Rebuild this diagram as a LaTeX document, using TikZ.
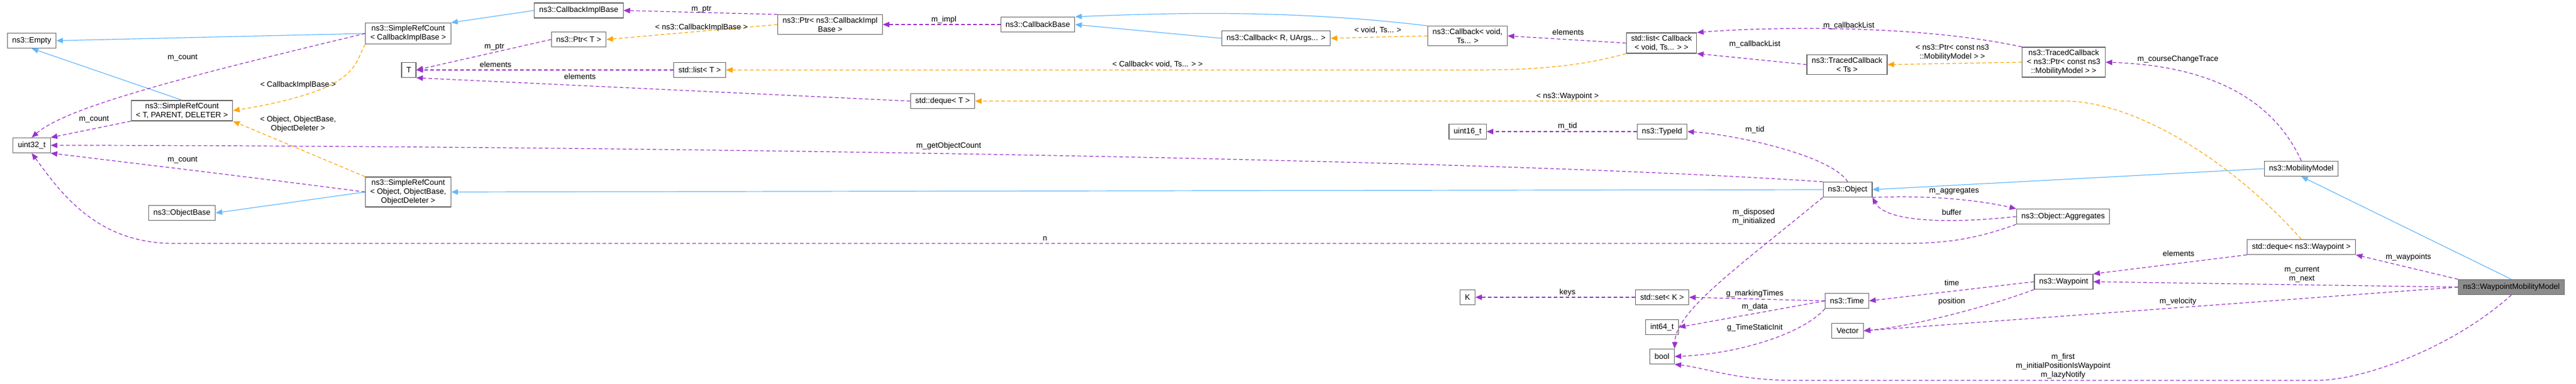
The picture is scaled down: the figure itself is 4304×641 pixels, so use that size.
\documentclass[tikz,border=0pt]{standalone}
\usepackage{fontspec}
\setmainfont{Liberation Sans}
\usetikzlibrary{arrows.meta}
\definecolor{usec}{HTML}{9A32CD}
\definecolor{tplc}{HTML}{FFA500}
\definecolor{inhc}{HTML}{63B8FF}
\tikzset{
 cls/.style={draw=black!60,fill=white,line width=1.2pt,inner xsep=8pt,inner ysep=4pt,minimum height=25pt,align=center,font=\fontsize{13}{15}\selectfont},
 lbl/.style={align=center,inner sep=0pt,font=\fontsize{13}{15}\selectfont},
 usearr/.style={draw=usec,line width=1.2pt,dash pattern=on 6pt off 4pt,-{Triangle[length=11pt,width=9pt]},color=usec},
 tplarr/.style={draw=tplc,line width=1.2pt,dash pattern=on 6pt off 4pt,-{Triangle[length=11pt,width=9pt]},color=tplc},
 inharr/.style={draw=inhc,line width=1.2pt,-{Triangle[length=11pt,width=9pt]},color=inhc},
}
\begin{document}
\begin{tikzpicture}[x=1pt,y=-1pt]
\useasboundingbox (0,0) rectangle (4304,641);
% nodes
\node[cls] (empty) at (53,68) {ns3::Empty};
\node[cls] (srccib) at (682,56) {ns3::SimpleRefCount\\< CallbackImplBase >};
\node[cls] (cib) at (967,17.5) {ns3::CallbackImplBase};
\node[cls] (ptrT) at (967,66) {ns3::Ptr< T >};
\node[cls] (T) at (683,117) {T};
\node[cls] (srcT) at (304,185) {ns3::SimpleRefCount\\< T, PARENT, DELETER >};
\node[cls] (u32) at (53,243) {uint32\_t};
\node[cls] (srcobj) at (682,321) {ns3::SimpleRefCount\\< Object, ObjectBase,\\ObjectDeleter >};
\node[cls] (objbase) at (304,356) {ns3::ObjectBase};
\node[cls] (ptrcib) at (1387,41) {ns3::Ptr< ns3::CallbackImpl\\Base >};
\node[cls] (cbbase) at (1734,41) {ns3::CallbackBase};
\node[cls] (cbR) at (2132,64) {ns3::Callback< R, UArgs... >};
\node[cls] (listT) at (1169,117) {std::list< T >};
\node[cls] (dequeT) at (1575,169) {std::deque< T >};
\node[cls] (cbvoid) at (2452,60) {ns3::Callback< void,\\Ts... >};
\node[cls] (listcb) at (2776,72) {std::list< Callback\\< void, Ts... > >};
\node[cls] (tcTs) at (3086,108) {ns3::TracedCallback\\< Ts >};
\node[cls] (u16) at (2452,220) {uint16\_t};
\node[cls] (typeid) at (2777,220) {ns3::TypeId};
\node[cls] (object) at (3087,317) {ns3::Object};
\node[cls] (K) at (2452,497) {K};
\node[cls] (setK) at (2777,497) {std::set< K >};
\node[cls] (time) at (3086,503) {ns3::Time};
\node[cls] (i64) at (2777,547) {int64\_t};
\node[cls] (bool) at (2777,596) {bool};
\node[cls] (vector) at (3087,553) {Vector};
\node[cls] (tcptr) at (3448,104) {ns3::TracedCallback\\< ns3::Ptr< const ns3\\::MobilityModel > >};
\node[cls] (mm) at (3845,282) {ns3::MobilityModel};
\node[cls] (agg) at (3447,362) {ns3::Object::Aggregates};
\node[cls] (dqwp) at (3845,413) {std::deque< ns3::Waypoint >};
\node[cls] (wp) at (3448,471) {ns3::Waypoint};
\node[cls,fill=black!45] (wmm) at (4196,480) {ns3::WaypointMobilityModel};
% inheritance
\draw[inharr] (srccib.west) -- (empty.east);
\draw[inharr] (srcT.north) -- (empty.south);
\draw[inharr] (cib.west) -- (srccib.north east);
\draw[inharr] (srcobj.west) -- (objbase.east);
\draw[inharr] (object.west) -- (srcobj.east);
\draw[inharr] (cbR.west) -- (cbbase.east);
\draw[inharr] (cbvoid.north west) .. controls (2150,15) and (1950,22) .. (cbbase.north east);
\draw[inharr] (mm.west) -- (object.east);
\draw[inharr] (wmm.north) -- (mm.south);
% template
\draw[tplarr] (srccib.south west) .. controls (590,110) and (600,150) .. (srcT.east);
\draw[tplarr] (srcobj.north west) -- (srcT.south east);
\draw[tplarr] (ptrcib.west) -- (ptrT.east);
\draw[tplarr] (cbvoid.west) -- (cbR.east);
\draw[tplarr] (listcb.south west) .. controls (2620,117) and (2520,117) .. (2450,117) -- (listT.east);
\draw[tplarr] (tcptr.west) -- (tcTs.east);
\draw[tplarr] (dqwp.north) .. controls (3720,260) and (3560,169) .. (3450,169) -- (dequeT.east);
% usage
\draw[usearr] (srccib.west) .. controls (300,130) and (110,180) .. (u32.north);
\draw[usearr] (srcT.south west) -- (u32.north east);
\draw[usearr] (srcobj.west) .. controls (450,300) and (200,270) .. (u32.south east);
\draw[usearr] (object.north west) .. controls (2400,260) and (800,243) .. (u32.east);
\draw[usearr] (agg.south west) .. controls (3300,400) and (3250,407) .. (3180,407) -- (290,407) .. controls (160,407) and (100,320) .. (u32.south);
\draw[usearr] (ptrT.west) -- (T.east);
\draw[usearr] (listT.west) -- (T.east);
\draw[usearr] (dequeT.west) -- (T.south east);
\draw[usearr] (ptrcib.north west) -- (cib.east);
\draw[usearr] (cbbase.west) -- (ptrcib.east);
\draw[usearr] (listcb.west) -- (cbvoid.east);
\draw[usearr] (tcptr.north west) .. controls (3200,40) and (2950,45) .. (listcb.north east);
\draw[usearr] (tcTs.west) -- (listcb.south east);
\draw[usearr] (mm.north) .. controls (3800,170) and (3700,110) .. (tcptr.east);
\draw[usearr] (typeid.west) -- (u16.east);
\draw[usearr] (object.north) .. controls (3060,260) and (2900,225) .. (typeid.east);
\draw[usearr] (object.south east) .. controls (3250,325) and (3330,340) .. (agg.north west);
\draw[usearr] (agg.west) .. controls (3250,375) and (3150,370) .. (object.south east);
\draw[usearr] (object.south west) .. controls (2900,450) and (2800,520) .. (bool.north east);
\draw[usearr] (setK.west) -- (K.east);
\draw[usearr] (time.west) -- (setK.east);
\draw[usearr] (time.west) -- (i64.east);
\draw[usearr] (time.south west) .. controls (3010,560) and (2900,592) .. (bool.east);
\draw[usearr] (wp.west) -- (time.east);
\draw[usearr] (wp.south west) .. controls (3330,510) and (3200,545) .. (vector.east);
\draw[usearr] (dqwp.south west) -- (wp.north east);
\draw[usearr] (wmm.north west) -- (dqwp.south east);
\draw[usearr] (wmm.west) -- (wp.east);
\draw[usearr] (wmm.west) -- (vector.east);
\draw[usearr] (wmm.south) .. controls (4100,580) and (3950,636) .. (3870,636) -- (3000,636) .. controls (2900,636) and (2850,615) .. (bool.south east);
% labels
\node[lbl] (l1) at (305,97) {m\_count};
\node[lbl] (l2) at (498,142) {< CallbackImplBase >};
\node[lbl] (l3) at (157,200) {m\_count};
\node[lbl] (l4) at (498,208) {< Object, ObjectBase,\\ObjectDeleter >};
\node[lbl] (l5) at (305,268) {m\_count};
\node[lbl] (l6) at (826,79) {m\_ptr};
\node[lbl] (l7) at (828,108) {elements};
\node[lbl] (l8) at (969,128) {elements};
\node[lbl] (l9) at (1172,16) {m\_ptr};
\node[lbl] (l10) at (1172,46) {< ns3::CallbackImplBase >};
\node[lbl] (l11) at (1577,33) {m\_impl};
\node[lbl] (l12) at (1934,108) {< Callback< void, Ts... > >};
\node[lbl] (l13) at (1585,244) {m\_getObjectCount};
\node[lbl] (l14) at (1746,399) {n};
\node[lbl] (l15) at (2302,51) {< void, Ts... >};
\node[lbl] (l16) at (2620,54) {elements};
\node[lbl] (l17) at (3089,43) {m\_callbackList};
\node[lbl] (l18) at (2932,74) {m\_callbackList};
\node[lbl] (l19) at (3262,88) {< ns3::Ptr< const ns3\\::MobilityModel > >};
\node[lbl] (l20) at (2619,161) {< ns3::Waypoint >};
\node[lbl] (l21) at (2619,211) {m\_tid};
\node[lbl] (l22) at (2932,217) {m\_tid};
\node[lbl] (l23) at (2930,363) {m\_disposed\\m\_initialized};
\node[lbl] (l24) at (3265,320) {m\_aggregates};
\node[lbl] (l25) at (3261,355) {buffer};
\node[lbl] (l26) at (2619,489) {keys};
\node[lbl] (l27) at (2932,491) {g\_markingTimes};
\node[lbl] (l28) at (2932,513) {m\_data};
\node[lbl] (l29) at (2932,548) {g\_TimeStaticInit};
\node[lbl] (l30) at (3261,473) {time};
\node[lbl] (l31) at (3261,504) {position};
\node[lbl] (l32) at (3639,99) {m\_courseChangeTrace};
\node[lbl] (l33) at (3640,424) {elements};
\node[lbl] (l34) at (4024,430) {m\_waypoints};
\node[lbl] (l35) at (3846,459) {m\_current\\m\_next};
\node[lbl] (l36) at (3639,504) {m\_velocity};
\node[lbl] (l37) at (3447,612) {m\_first\\m\_initialPositionIsWaypoint\\m\_lazyNotify};
\end{tikzpicture}
\end{document}
